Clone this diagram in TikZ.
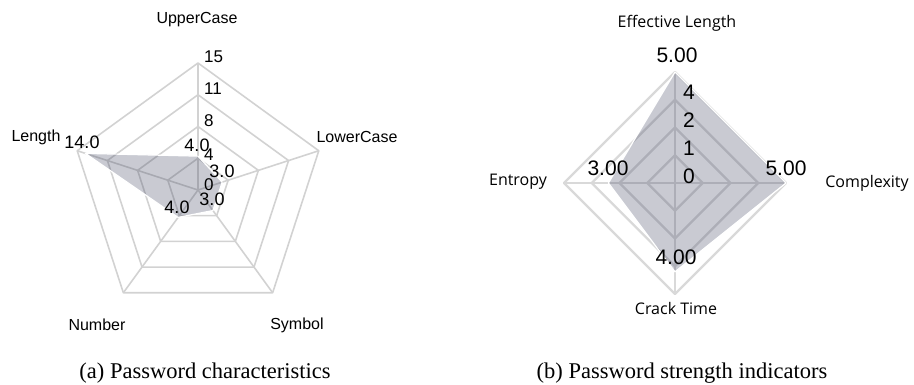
\documentclass[tikz,border=0pt]{standalone}
\usepackage{fontspec}
\setmainfont{Liberation Serif}
\setsansfont{Liberation Sans}
\newfontfamily\opensans{Open Sans}
\usetikzlibrary{positioning}
\definecolor{areafill}{RGB}{60,66,95}

\begin{document}
\begin{tikzpicture}[x=1pt,y=1pt,
    web/.style={draw=gray!35, line width=1.6pt, line join=round},
    webb/.style={draw=gray!30, line width=2.4pt, line join=round},
    area/.style={fill=areafill, fill opacity=0.28, draw=white, line width=1.2pt, line join=round},
    axlabel/.style={inner sep=0pt, font=\sffamily\fontsize{16}{18}\selectfont},
    axlabelb/.style={inner sep=0pt, font=\opensans\fontsize{16}{18}\selectfont},
    tick/.style={inner sep=0pt, anchor=west, font=\sffamily\fontsize{17}{19}\selectfont},
    val/.style={inner sep=0pt, font=\sffamily\fontsize{18}{20}\selectfont},
    valb/.style={inner sep=0pt, font=\sffamily\fontsize{21}{23}\selectfont},
    caption/.style={inner sep=0pt, font=\fontsize{22.5}{25}\selectfont}]
  \useasboundingbox (0,0) rectangle (914,385);

  % (a) password characteristics
  \begin{scope}[shift={(198,195)}]
    \foreach \r in {31.75,63.5,95.25,127}
      \draw[web] (90:\r) -- (162:\r) -- (234:\r) -- (306:\r) -- (18:\r) -- cycle;
    \coordinate (ca) at (0,0);
    \foreach \a/\n in {90/up,162/len,234/num,306/sym,18/low}
      {\coordinate (a\n) at (\a:127); \draw[web] (ca) -- (a\n);}
    \foreach \a/\v/\n in {90/4/up,162/14/len,234/4/num,306/3/sym,18/3/low}
      \coordinate (d\n) at (\a:{\v*127/15});
    \filldraw[area] (dup) -- (dlen) -- (dnum) -- (dsym) -- (dlow) -- cycle;

    \foreach \r/\t [count=\i] in {-1/0,29/4,63.5/8,95.25/11,127/15}
      \node[tick] (ta\i) at (6,\r+6) {\t};

    \node[axlabel] (lup)  at (-1,170)    {UpperCase};
    \node[axlabel] (llen) at (-162,53)   {Length};
    \node[axlabel] (llow) at (159,53)    {LowerCase};
    \node[axlabel] (lnum) at (-101,-135) {Number};
    \node[axlabel] (lsym) at (99,-135)   {Symbol};

    \node[val] (vup)  at (-1,45)    {4.0};
    \node[val] (vlen) at (-116,48)  {14.0};
    \node[val] (vlow) at (24,19)    {3.0};
    \node[val] (vsym) at (14,-9)    {3.0};
    \node[val] (vnum) at (-21,-17)  {4.0};
  \end{scope}
  \node[caption] (capa) at (205,12) {(a) Password characteristics};

  % (b) password strength indicators
  \begin{scope}[shift={(675,202)}]
    \foreach \r in {27.75,55.5,83.25,111}
      \draw[webb] (90:\r) -- (0:\r) -- (270:\r) -- (180:\r) -- cycle;
    \coordinate (cb) at (0,0);
    \foreach \a/\n in {90/eff,0/cpx,270/crk,180/ent}
      {\coordinate (b\n) at (\a:111); \draw[webb] (cb) -- (b\n);}
    \foreach \a/\v/\n in {90/5/eff,0/5/cpx,270/4/crk,180/3/ent}
      \coordinate (e\n) at (\a:{\v*111/5});
    \filldraw[area] (eeff) -- (ecpx) -- (ecrk) -- (eent) -- cycle;

    \foreach \r/\t [count=\i] in {0/0,27.75/1,55.5/2,83.25/4}
      \node[tick, font=\sffamily\fontsize{21}{23}\selectfont] (tb\i) at (8,\r+7) {\t};

    \node[axlabelb] (leff) at (2,160)   {Effective Length};
    \node[axlabelb] (lcpx) at (192,0)   {Complexity};
    \node[axlabelb] (lcrk) at (1,-126)  {Crack Time};
    \node[axlabelb] (lent) at (-157,1)  {Entropy};

    \node[valb] (veff) at (2,128)   {5.00};
    \node[valb] (vcpx) at (111,15)  {5.00};
    \node[valb] (vcrk) at (1,-74)   {4.00};
    \node[valb] (vent) at (-67,15)  {3.00};
  \end{scope}
  \node[caption] (capb) at (682,12) {(b) Password strength indicators};
\end{tikzpicture}
\end{document}
